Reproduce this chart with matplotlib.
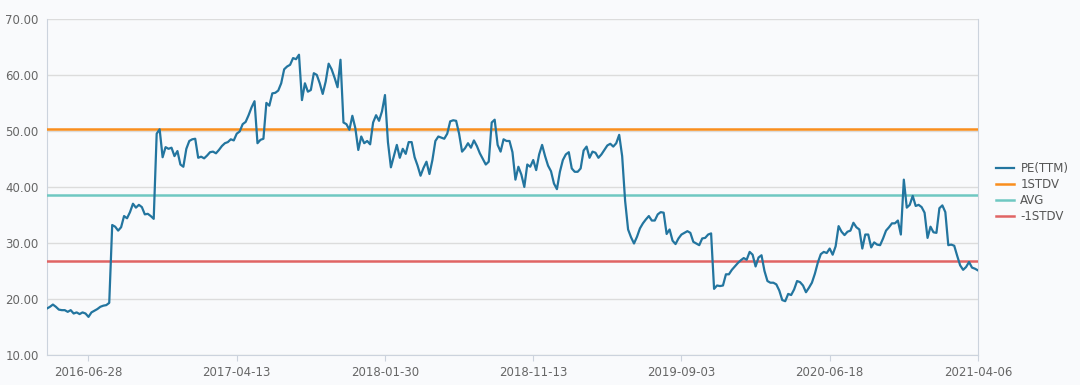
import matplotlib.pyplot as plt
import numpy as np

# PE(TTM), one value per ~3 px (50 points between date ticks)
pe_ttm = [
    18.3, 18.6, 19.0, 18.6, 18.1, 18.0, 18.0, 17.7, 18.0, 17.4,
    17.6, 17.3, 17.6, 17.4, 16.8, 17.6, 17.9, 18.2, 18.6, 18.8,
    18.9, 19.3, 33.2, 32.9, 32.2, 32.8, 34.8, 34.4, 35.5, 37.0,
    36.3, 36.8, 36.4, 35.1, 35.2, 34.8, 34.3, 49.5, 50.3, 45.3,
    47.1, 46.8, 47.0, 45.5, 46.4, 44.0, 43.6, 46.8, 48.2, 48.5,
    48.6, 45.2, 45.4, 45.1, 45.6, 46.2, 46.3, 46.0, 46.6, 47.3,
    47.8, 48.0, 48.5, 48.3, 49.5, 49.9, 51.2, 51.6, 52.8, 54.2,
    55.3, 47.8, 48.4, 48.6, 55.0, 54.5, 56.7, 56.8, 57.2, 58.5,
    61.0, 61.5, 61.8, 63.0, 62.8, 63.6, 55.5, 58.5, 57.0, 57.3,
    60.3, 60.0, 58.5, 56.6, 58.8, 62.0, 61.0, 59.5, 57.8, 62.7,
    51.5, 51.2, 50.2, 52.7, 50.5, 46.6, 49.0, 47.8, 48.2, 47.6,
    51.5, 52.8, 51.8, 53.5, 56.4, 48.0, 43.5, 45.5, 47.5, 45.2,
    46.8, 45.9, 48.0, 48.0, 45.3, 43.8, 42.0, 43.4, 44.5, 42.3,
    44.8, 48.2, 49.0, 48.8, 48.6, 49.5, 51.7, 51.9, 51.8, 49.5,
    46.3, 46.9, 47.8, 47.0, 48.3, 47.3, 46.0, 45.0, 44.0, 44.5,
    51.5, 52.0, 47.5, 46.3, 48.5, 48.2, 48.2, 46.2, 41.3, 43.6,
    42.2, 40.0, 44.0, 43.6, 44.8, 43.0, 45.8, 47.5, 45.5, 43.8,
    42.8, 40.6, 39.6, 42.7, 44.8, 45.8, 46.2, 43.3, 42.7, 42.7,
    43.3, 46.5, 47.2, 45.2, 46.3, 46.1, 45.2, 45.8, 46.6, 47.4,
    47.7, 47.2, 47.8, 49.3, 45.5, 37.5, 32.4, 31.0, 29.9, 31.1,
    32.6, 33.5, 34.2, 34.8, 34.0, 34.0, 35.1, 35.5, 35.4, 31.6,
    32.4, 30.4, 29.8, 30.8, 31.5, 31.8, 32.1, 31.8, 30.2, 29.9,
    29.6, 30.8, 30.9, 31.5, 31.7, 21.8, 22.4, 22.3, 22.4, 24.4,
    24.4, 25.2, 25.8, 26.4, 26.9, 27.3, 27.0, 28.4, 27.9, 25.8,
    27.4, 27.8, 25.0, 23.2, 22.9, 22.9, 22.6, 21.5, 19.8, 19.6,
    20.9, 20.7, 21.7, 23.2, 23.0, 22.4, 21.2, 22.0, 22.9, 24.5,
    26.5, 28.0, 28.4, 28.2, 29.0, 27.9, 29.4, 33.0, 32.0, 31.4,
    32.0, 32.2, 33.6, 32.8, 32.4, 29.0, 31.5, 31.5, 29.2, 30.1,
    29.7, 29.6, 30.8, 32.2, 32.8, 33.5, 33.5, 34.0, 31.5, 41.3,
    36.3, 36.8, 38.4, 36.6, 36.8, 36.4, 35.4, 30.9, 32.9, 31.9,
    31.8, 36.2, 36.7, 35.5, 29.6, 29.7, 29.5, 27.7, 26.0, 25.2,
    25.7, 26.6, 25.6, 25.4, 25.1,
]

avg = 38.63
stdv_up = 50.42
stdv_down = 26.85

date_labels = ['2016-06-28', '2017-04-13', '2018-01-30', '2018-11-13',
               '2019-09-03', '2020-06-18', '2021-04-06']
first_tick = 14
tick_step = 50

bg = '#f9fafc'
fig = plt.figure(figsize=(10.8, 3.85), dpi=100, facecolor=bg)
ax = fig.add_axes([0.0435, 0.078, 0.862, 0.873], facecolor=bg)

x = np.arange(len(pe_ttm))
ax.plot(x, pe_ttm, color='#23759f', lw=1.6, label='PE(TTM)', zorder=4)
ax.axhline(stdv_up, color='#f98e1d', lw=1.8, label='1STDV', zorder=3)
ax.axhline(avg, color='#6fc8c2', lw=1.8, label='AVG', zorder=3)
ax.axhline(stdv_down, color='#e06464', lw=1.8, label='-1STDV', zorder=3)

ax.set_xlim(0, len(pe_ttm) - 1)
ax.set_ylim(10, 70)
ax.set_yticks(np.arange(10, 71, 10))
ax.set_yticklabels([f'{v:.2f}' for v in np.arange(10, 71, 10)])
ticks = [first_tick + k * tick_step for k in range(len(date_labels))]
ax.set_xticks(ticks)
ax.set_xticklabels(date_labels)

ax.grid(axis='y', color='#dcdcdc', lw=1)
ax.set_axisbelow(True)
for side in ['left', 'right', 'bottom']:
    ax.spines[side].set_color('#ccd3dd')
ax.spines['top'].set_visible(False)
ax.tick_params(axis='y', length=0, pad=6, labelsize=8.5, labelcolor='#666666')
ax.tick_params(axis='x', length=4, color='#ccd3dd', pad=4, labelsize=8.5,
               labelcolor='#666666')

fig.legend(loc='center left', bbox_to_anchor=(0.912, 0.5), frameon=False,
           fontsize=8.5, handlelength=1.6, handletextpad=0.5, labelspacing=0.25,
           labelcolor='#555555')

fig.savefig('out.png', dpi=100, facecolor=bg)
